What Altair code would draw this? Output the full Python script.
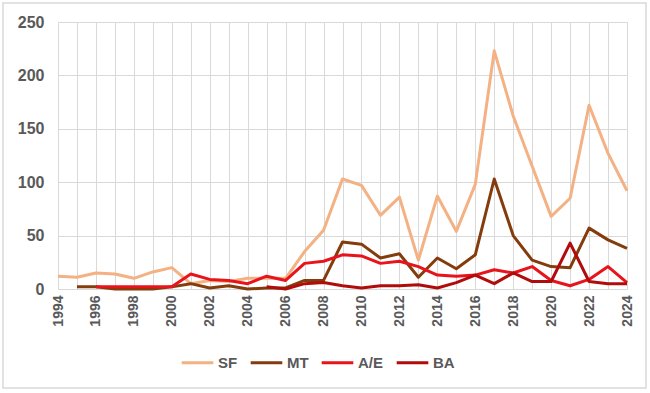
import altair as alt
import pandas as pd

years = list(range(1994, 2025))

# Yearly counts per category (None = no record that year)
sf = [12, 11, 15, 14, 10, 16, 20, 5, 8, 7, 10, 10, 10, 35, 55, 103, 97, 69, 86, 27,
      87, 54, 98, 223, 162, 115, 68, 85, 172, 127, 92]
mt = [None, 2, 2, 0, 0, 0, 2, 5, 1, 3, 0, 1, 1, 8, 8, 44, 42, 29, 33, 11,
      29, 19, 32, 103, 50, 27, 21, 20, 57, 46, 38]
ae = [None, None, 2, 2, 2, 2, 2, 14, 9, 8, 5, 12, 8, 24, 26, 32, 31, 24, 26, 21,
      13, 12, 13, 18, 15, 21, 8, 3, 9, 21, 6]
ba = [None] * 11 + [2, 0, 5, 6, 3, 1, 3, 3, 4, 1, 6, 13, 5, 15, 7, 7, 43, 7, 5, 5]

series_names = ["SF", "MT", "A/E", "BA"]
series_colors = ["#F4B183", "#843C0C", "#E8141B", "#B00C0C"]
y_ticks = [0, 50, 100, 150, 200, 250]

rows = []
for name, vals in zip(series_names, [sf, mt, ae, ba]):
    for yr, v in zip(years, vals):
        if v is not None:
            rows.append({"year": yr, "series": name, "value": v})
df = pd.DataFrame(rows)

grey = "#595959"
font = "Liberation Sans"

lines = alt.Chart(df).mark_line(strokeWidth=3, strokeJoin="round").encode(
    x=alt.X(
        "year:Q",
        scale=alt.Scale(domain=[years[0], years[-1]], nice=False, zero=False),
        axis=alt.Axis(
            title=None,
            values=years,
            format="d",
            labelExpr="datum.value % 2 == 0 ? datum.label : ''",
            labelAngle=270,
            labelAlign="right",
            labelBaseline="middle",
            labelPadding=6,
            labelFont=font,
            labelFontSize=14,
            labelFontWeight="bold",
            labelColor=grey,
            labelFlush=False,
            labelOverlap=False,
            grid=True,
            gridColor="#D9D9D9",
            gridWidth=1,
            domain=False,
            ticks=False,
        ),
    ),
    y=alt.Y(
        "value:Q",
        scale=alt.Scale(domain=[0, 250], nice=False),
        axis=alt.Axis(
            title=None,
            values=y_ticks,
            labelFont=font,
            labelFontSize=16,
            labelFontWeight="bold",
            labelColor=grey,
            labelPadding=14,
            grid=True,
            gridColor="#D9D9D9",
            gridWidth=1,
            domain=False,
            ticks=False,
        ),
    ),
    color=alt.Color(
        "series:N",
        scale=alt.Scale(domain=series_names, range=series_colors),
        sort=series_names,
        legend=alt.Legend(
            title=None,
            orient="none",
            direction="horizontal",
            legendX=122,
            legendY=323,
            symbolType="stroke",
            symbolStrokeWidth=3,
            symbolSize=1000,
            labelFont=font,
            labelFontSize=15,
            labelFontWeight="bold",
            labelColor=grey,
            labelOffset=3,
            columnPadding=6,
        ),
    ),
    order=alt.Order("series_order:Q"),
).transform_calculate(
    series_order="indexof(['SF','MT','A/E','BA'], datum.series)"
)

# Outer frame around the whole figure
frame = alt.Chart(pd.DataFrame({"k": [0]})).mark_rect(
    fill=None, stroke="#D9D9D9", strokeWidth=1.5, clip=False
).encode(
    x=alt.value(-55), x2=alt.value(588), y=alt.value(-19), y2=alt.value(366)
)

chart = alt.layer(lines, frame).properties(
    width=569,
    height=267,
    padding={"left": 58, "top": 22, "right": 23, "bottom": 104},
    autosize=alt.AutoSizeParams(type="none"),
    background="white",
).configure_view(stroke=None)

chart.save("out.html", embed_options={"renderer": "svg", "actions": False})
